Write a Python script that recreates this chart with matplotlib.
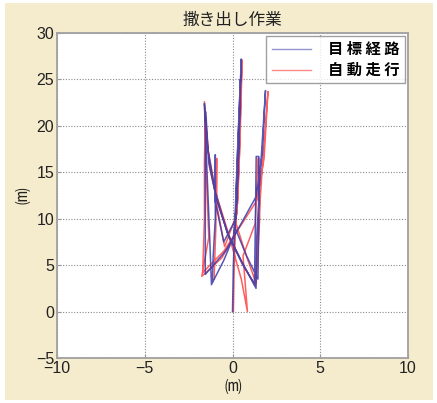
import matplotlib
matplotlib.use("Agg")
import matplotlib.pyplot as plt
from matplotlib.patches import Rectangle

plt.rcParams['font.family'] = ['Noto Sans CJK JP', 'DejaVu Sans']
plt.rcParams['axes.unicode_minus'] = True

title = "撒き出し作業"
label_target = "目 標 経 路"
label_actual = "自 動 走 行"
unit_label = "⒨"

x_ticks = [-10, -5, 0, 5, 10]
y_ticks = [-5, 0, 5, 10, 15, 20, 25, 30]

# target path (blue)
target_x = [0.0, 0.05, 0.2, 0.35, 0.5,
            0.4, 0.25, 0.05, -0.5, -1.2,
            -1.3, -1.45, -1.6,
            -1.45, -1.0, -0.3, 0.5, 1.34,
            1.38, 1.6, 1.88,
            1.7, 1.35, 0.5, -0.4, -1.55,
            -1.55, -1.55, -1.52,
            -1.35, -0.9, -0.2, 0.6, 1.25,
            1.3, 1.35, 1.5, 1.5, 1.45,
            0.8, 0.15, 0.3, 0.45,
            0.35, 0.2, -0.5, -1.0,
            -0.98, -0.98, -1.1, -1.15]
target_y = [0.0, 5.0, 13.0, 20.0, 27.2,
            20.0, 12.0, 8.0, 5.5, 2.9,
            8.0, 15.0, 22.4,
            18.0, 13.0, 8.5, 5.5, 2.5,
            8.0, 15.5, 23.8,
            17.0, 12.4, 9.5, 6.5, 4.0,
            10.0, 16.0, 21.5,
            16.0, 12.0, 8.0, 5.0, 3.0,
            9.0, 16.7, 16.7, 10.0, 3.5,
            6.0, 9.0, 18.0, 25.0,
            17.0, 10.0, 7.5, 12.0,
            16.9, 10.0, 6.0, 3.2]

# actual driving path (red)
actual_x = [0.05, 0.1, 0.25, 0.4, 0.55,
            0.45, 0.3, 0.1, -0.6, -1.75,
            -1.35, -1.5, -1.6,
            -1.4, -0.95, -0.2, 0.6, 1.3,
            1.45, 1.7, 2.02,
            1.8, 1.4, 0.45, -0.5, -1.7,
            -1.6, -1.6, -1.55,
            -1.3, -0.8, -0.1, 0.5, 0.85,
            0.6, 1.3, 1.45, 1.5, 1.55, 1.35,
            0.7, 0.2, 0.35, 0.5,
            0.4, 0.25, -0.45, -0.9,
            -0.9, -0.95, -1.05]
actual_y = [0.0, 5.0, 13.0, 20.0, 27.1,
            20.0, 12.0, 8.2, 5.8, 3.8,
            8.0, 15.0, 22.6,
            17.5, 12.8, 8.2, 5.0, 2.8,
            8.5, 15.5, 23.7,
            16.5, 12.0, 9.2, 6.5, 4.2,
            10.0, 16.0, 21.0,
            15.5, 11.5, 7.5, 3.5, 0.0,
            6.0, 9.5, 16.5, 16.5, 10.0, 3.0,
            6.5, 9.5, 18.0, 25.5,
            17.0, 10.5, 7.0, 11.5,
            16.5, 9.0, 3.5]

fig = plt.figure(figsize=(4.37, 4.03), dpi=100, facecolor='white')
fig.patches.append(Rectangle((5/437, 3/403), 428/437, 397/403,
                             transform=fig.transFigure, facecolor='#f5ebcd',
                             edgecolor='none', zorder=-10))
ax = fig.add_axes([57/437, 1 - 358/403, 351/437, 325/403])
ax.set_facecolor('white')

ax.plot(target_x, target_y, color='#3a3aa8', lw=1.1, alpha=0.85,
        label=label_target, zorder=3)
ax.plot(actual_x, actual_y, color='#ff2a2a', lw=1.1, alpha=0.75,
        label=label_actual, zorder=2)

ax.set_xlim(-10, 10)
ax.set_ylim(-5, 30)
ax.set_xticks(x_ticks)
ax.set_yticks(y_ticks)
ax.set_xticklabels([f"{v}".replace('-', '\u2212') for v in x_ticks],
                   family=['Liberation Sans', 'DejaVu Sans'])
ax.set_yticklabels([f"{v}".replace('-', '\u2212') for v in y_ticks],
                   family=['Liberation Sans', 'DejaVu Sans'])
ax.tick_params(direction='in', length=3, color='#999999', labelsize=11.5,
               labelcolor='#222222', pad=2)
ax.grid(True, color='#8a8a8a', linestyle=(0, (1, 1.5)), linewidth=0.8)
for s in ax.spines.values():
    s.set_color('#a0a0a0')
    s.set_linewidth(1.3)

ax.set_title(title, fontsize=12, color='#222222', pad=6)
ax.set_xlabel(unit_label, fontsize=12, color='#222222', labelpad=3)
ax.set_ylabel(unit_label, fontsize=12, color='#222222', labelpad=2)

leg = ax.legend(loc='upper right', frameon=True, fancybox=False,
                borderaxespad=0.2, handlelength=2.6, handletextpad=1.1,
                labelspacing=0.3, borderpad=0.35,
                prop={'weight': 'bold', 'size': 11})
leg.get_frame().set_edgecolor('#888888')
leg.get_frame().set_linewidth(1.0)
for line in leg.get_lines():
    line.set_linewidth(1.0)
    line.set_alpha(0.55)

fig.savefig('out.png', dpi=100, facecolor=fig.get_facecolor())
